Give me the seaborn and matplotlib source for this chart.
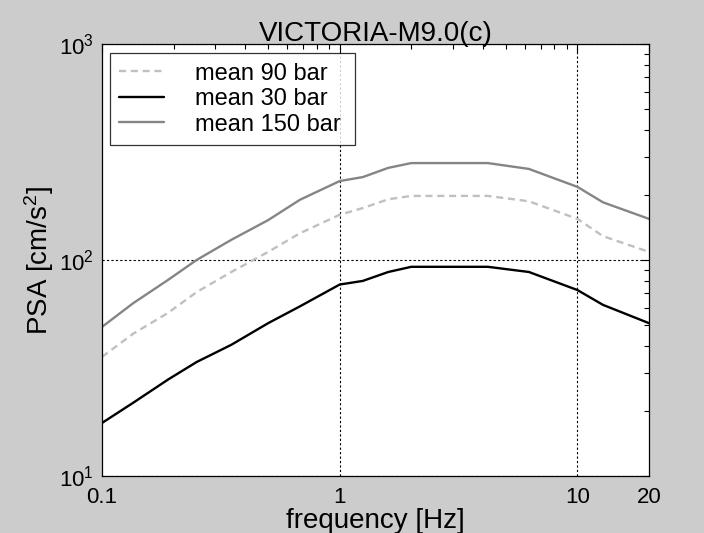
import pandas as pd
import matplotlib
matplotlib.use("Agg")
import matplotlib.pyplot as plt
import matplotlib.ticker as mticker
import seaborn as sns

# values (log-log PSA curves)
freq = [0.1, 0.135, 0.19, 0.25, 0.35, 0.5, 0.68, 1.0, 1.25, 1.6, 2.0, 4.2, 6.25, 10.0, 12.8, 20.0]
psa_90 = [35.6, 45.5, 57, 71, 88, 109, 133, 162, 174, 191, 198, 198, 187, 155, 129, 109]
psa_30 = [17.6, 21.8, 28, 33.7, 40.5, 51, 61, 77, 80, 88, 93, 93, 88, 72.6, 62, 51]
psa_150 = [49, 63, 81, 100, 124, 153, 190, 232, 242, 267, 281, 281, 264, 218, 185, 155]
labels = ["mean 90 bar", "mean 30 bar", "mean 150 bar"]
xticks = [0.1, 1, 10, 20]
xticklabels = ["0.1", "1", "10", "20"]

df = pd.concat([
    pd.DataFrame({"freq": freq, "psa": psa_90, "case": labels[0]}),
    pd.DataFrame({"freq": freq, "psa": psa_30, "case": labels[1]}),
    pd.DataFrame({"freq": freq, "psa": psa_150, "case": labels[2]}),
])

sns.set_style("white")
plt.rcParams["font.family"] = ["Liberation Sans", "DejaVu Sans"]
plt.rcParams["mathtext.fontset"] = "custom"
plt.rcParams["mathtext.rm"] = "Liberation Sans"
plt.rcParams["mathtext.it"] = "Liberation Sans:italic"
# matlab-ish look: black text everywhere
plt.rcParams["text.color"] = "black"
plt.rcParams["axes.labelcolor"] = "black"
plt.rcParams["xtick.color"] = "black"
plt.rcParams["ytick.color"] = "black"

fig = plt.figure(figsize=(7.04, 5.33), dpi=100, facecolor="#cccccc")
ax = fig.add_axes([102 / 704, 1 - 476 / 533, 547 / 704, 432 / 533])
ax.set_facecolor("white")

palette = {labels[0]: "#c0c0c0", labels[1]: "black", labels[2]: "#858585"}
dashes = {labels[0]: (3, 2), labels[1]: "", labels[2]: ""}
sns.lineplot(data=df, x="freq", y="psa", hue="case", style="case",
             hue_order=labels, style_order=labels, palette=palette,
             dashes=dashes, linewidth=1.7, ax=ax)

ax.set_xscale("log")
ax.set_yscale("log")
ax.set_xlim(0.1, 20)
ax.set_ylim(10, 1000)
ax.xaxis.set_major_locator(mticker.FixedLocator(xticks))
ax.xaxis.set_major_formatter(mticker.FixedFormatter(xticklabels))
ax.xaxis.set_minor_locator(mticker.LogLocator(base=10, subs=range(2, 10), numticks=20))
ax.xaxis.set_minor_formatter(mticker.NullFormatter())

# dotted major grid (only x=1, x=10 and y=100 show inside the box)
ax.grid(True, which="major", axis="y", color="black", linestyle=(0, (2, 2)), linewidth=0.8)
for xv in [1, 10]:
    ax.axvline(xv, color="black", linestyle=(0, (2, 2)), linewidth=0.8, zorder=0.5)

ax.tick_params(which="both", direction="in", top=True, right=True)
ax.tick_params(which="major", length=6, width=0.8, labelsize=16, pad=8)
ax.tick_params(axis="y", which="major", pad=6)
ax.tick_params(which="minor", length=3.5, width=0.8)
for s in ax.spines.values():
    s.set_color("black")
    s.set_linewidth(0.9)

ax.set_title("VICTORIA-M9.0(c)", fontsize=20, pad=2)
ax.set_xlabel("frequency [Hz]", fontsize=20, labelpad=0)
ax.set_ylabel("PSA [cm/s$^2$]", fontsize=20, labelpad=2)

leg = ax.legend(loc="upper left", bbox_to_anchor=(0.0146, 0.771, 0.448, 0.208),
                mode="expand", borderaxespad=0, fontsize=17, frameon=True,
                fancybox=False, handlelength=1.9, handletextpad=1.3,
                labelspacing=0.15, borderpad=0.4)
leg.get_frame().set_edgecolor("black")
leg.get_frame().set_linewidth(0.9)

fig.savefig("out.png", dpi=100, facecolor=fig.get_facecolor())
